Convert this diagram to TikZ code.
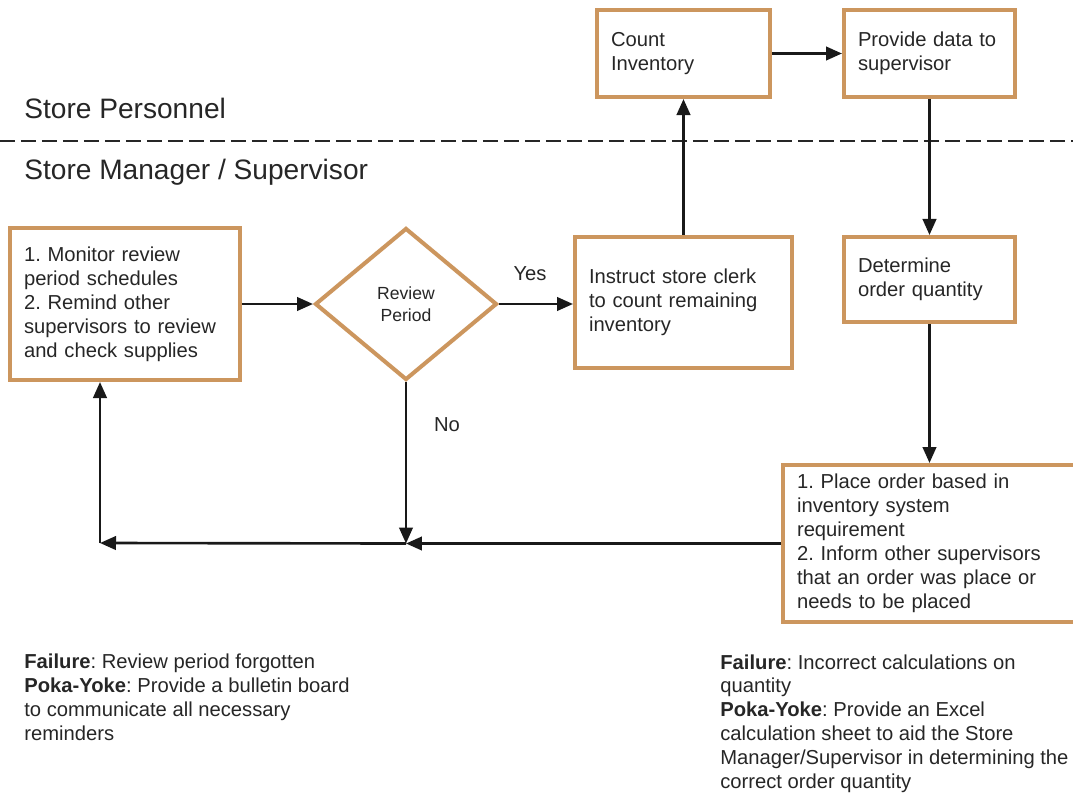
\documentclass[tikz,border=0pt]{standalone}
\usepackage{fontspec}
\setmainfont{Liberation Sans}
\usepackage{tikz}
\usetikzlibrary{shapes.geometric,arrows.meta}
\definecolor{boxline}{RGB}{204,150,94}
\definecolor{inktext}{RGB}{38,38,38}
\frenchspacing

\begin{document}
\begin{tikzpicture}[x=0.02cm,y=-0.02cm,
        every node/.style={font=\fontsize{11.5}{13.6}\selectfont, text=inktext},
        stepbox/.style={draw=boxline, line width=2.3pt, rectangle, inner xsep=0.28cm, inner ysep=0pt, align=left},
        decision/.style={draw=boxline, line width=2.3pt, diamond, inner sep=0pt, minimum width=3.64cm, minimum height=3.04cm, align=center, font=\fontsize{10}{12.6}\selectfont},
        flow/.style={-{Triangle[length=0.32cm,width=0.27cm]}, line width=1.5pt, black!90},
        lane/.style={anchor=west, inner sep=0pt, font=\fontsize{16}{19}\selectfont},
        remark/.style={anchor=north west, inner sep=0pt, align=left}]
    \useasboundingbox (0,0) rectangle (1073,795);

    \node[lane] (personnel) at (24,108) {Store Personnel};
    \node[lane] (manager) at (24,172) {Store Manager / Supervisor};
    \draw[line width=1.7pt, dash pattern=on 0.3cm off 0.12cm, black!85] (0,141) -- (1073,141);

    \node[stepbox, text width=4.04cm, minimum height=3.04cm] (monitor) at (125,304)
        {1. Monitor review\\period schedules\\2. Remind other\\supervisors to review\\and check supplies};
    \node[decision] (review) at (406,304) {Review\\Period};
    \node[stepbox, text width=3.78cm, minimum height=2.62cm] (instruct) at (683.5,302.5)
        {Instruct store clerk\\to count remaining\\inventory};
    \node[stepbox, text width=2.90cm, minimum height=1.74cm] (count) at (683.5,53.5) {Count\\Inventory};
    \node[stepbox, text width=2.86cm, minimum height=1.74cm] (provide) at (929.5,53.5) {Provide data to\\supervisor};
    \node[stepbox, text width=2.86cm, minimum height=1.70cm] (determine) at (929.5,279.5) {Determine\\order quantity};
    \node[stepbox, text width=5.38cm, minimum height=3.14cm] (place) at (931.5,543.5)
        {1. Place order based in\\inventory system\\requirement\\2. Inform other supervisors\\that an order was place or\\needs to be placed};

    \node (yes) at (530,274) {Yes};
    \node (no) at (447,425) {No};

    \coordinate (merge) at (review.south |- place.west);
    \coordinate (corner) at (100,543);

    \draw[flow] (monitor) -- (review);
    \draw[flow] (review.east) -- (review.east -| instruct.west);
    \draw[flow] (instruct) -- (count);
    \draw[flow] (count) -- (provide);
    \draw[flow] (provide) -- (determine);
    \draw[flow] (determine.south) -- (determine.south |- place.north);
    \draw[flow] (place.west) -- (merge);
    \draw[flow] (review.south) -- (merge);
    \draw[flow] (merge) -- (corner);
    \draw[flow] (corner) -- (corner |- monitor.south);

    \node[remark] (failleft) at (24,654)
        {\textbf{Failure}: Review period forgotten\\\textbf{Poka-Yoke}: Provide a bulletin board\\to communicate all necessary\\reminders};
    \node[remark] (failright) at (720,654)
        {\textbf{Failure}: Incorrect calculations on\\quantity\\\textbf{Poka-Yoke}: Provide an Excel\\calculation sheet to aid the Store\\Manager/Supervisor in determining the\\correct order quantity};
\end{tikzpicture}
\end{document}
